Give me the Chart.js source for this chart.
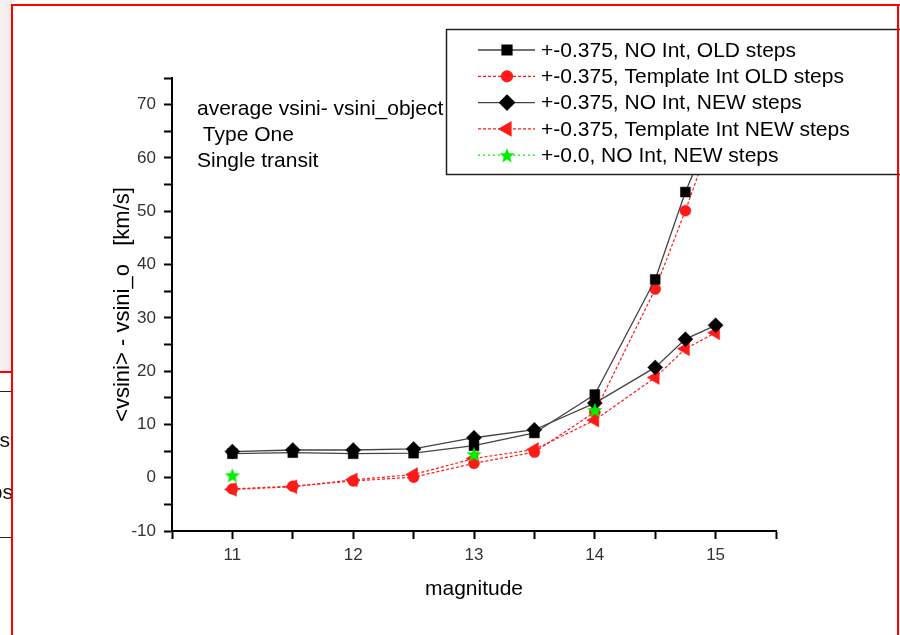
<!DOCTYPE html>
<html>
<head>
<meta charset="utf-8">
<title>average vsini - vsini_object</title>
<script src="https://cdn.jsdelivr.net/npm/chart.js@4.4.1/dist/chart.umd.min.js"></script>
<style>
  html, body { margin: 0; padding: 0; background: #fff; }
  #wrap { position: relative; width: 900px; height: 635px; overflow: hidden; font-family: 'Liberation Sans', Arial, sans-serif; }
  #chart { position: absolute; left: 0; top: 0; }
  .edge { position: absolute; pointer-events: none; }
  .red { background: #ff0000; }
  .blk { background: #222; }
  #strip { left: 0; top: 0; width: 12px; height: 372px; background: linear-gradient(90deg, #f7f2f2, #f1e9e9); }
  #side { position: absolute; left: 0; top: 380px; width: 11px; height: 170px; overflow: hidden; }
  .cut { position: absolute; font-size: 21px; color: #111; white-space: nowrap; }
</style>
</head>
<body>
<div id="wrap">
  <canvas id="chart" width="900" height="635"></canvas>
  <div class="edge" id="strip"></div>
  <div class="edge red" style="left:0;top:371px;width:13px;height:2px"></div>
  <div class="edge blk" style="left:0;top:391px;width:12px;height:1px"></div>
  <div class="edge blk" style="left:0;top:537px;width:12px;height:1px"></div>
  <div id="side">
    <div class="cut" style="top:48px;right:1px">steps</div>
    <div class="cut" style="top:100px;right:-2px">steps</div>
  </div>
  <div class="edge red" style="left:12px;top:4px;width:888px;height:2px"></div>
  <div class="edge red" style="left:11px;top:4px;width:2px;height:631px"></div>
  <div class="edge red" style="left:897px;top:4px;width:2px;height:631px"></div>
</div>
<script>
// magnitude bins on the x axis
const magnitudes = [11, 11.5, 12, 12.5, 13, 13.5, 14, 14.5, 14.75, 15];

// <vsini> - vsini_o [km/s] for each run
const oldNoInt    = [4.5, 4.7, 4.5, 4.6, 6.0, 8.4, 15.6, 37.2, 53.6, 67];
const oldTemplate = [-2.1, -1.6, -0.6, 0.1, 2.7, 4.8, 12.3, 35.4, 50.1, 66];
const newNoInt    = [4.9, 5.2, 5.2, 5.4, 7.5, 9.0, 14.0, 20.7, 26.0, 28.6];
const newTemplate = [-2.2, -1.7, -0.4, 0.6, 3.6, 5.3, 10.8, 18.8, 24.2, 27.2];
const zeroNoInt   = [0.45, null, null, null, 4.4, null, 12.7, null, null, null];

const seriesLabels = [
  '+-0.375, NO Int, OLD steps',
  '+-0.375, Template Int OLD steps',
  '+-0.375, NO Int, NEW steps',
  '+-0.375, Template Int NEW steps',
  '+-0.0, NO Int, NEW steps'
];
const noteLines = ['average vsini- vsini_object', ' Type One', 'Single transit'];

const FONT = "'Liberation Sans', Arial, sans-serif";

function makeStar(size, color) {
  const c = document.createElement('canvas');
  c.width = size; c.height = size;
  const g = c.getContext('2d');
  const ro = size / 2, ri = ro * 0.42;
  g.beginPath();
  for (let i = 0; i < 10; i++) {
    const r = i % 2 ? ri : ro;
    const a = -Math.PI / 2 + i * Math.PI / 5;
    g.lineTo(ro + r * Math.cos(a), ro + 0.8 + r * Math.sin(a));
  }
  g.closePath();
  g.fillStyle = color;
  g.fill();
  return c;
}
const greenStar = makeStar(16, '#00ee00');

function pts(arr) {
  return magnitudes.map((m, i) => ({ x: m, y: arr[i] }));
}

function series(label, arr, color, dash, style, radius, rotation, order) {
  const mark = color === '#444' ? '#000' : color;
  return {
    label, data: pts(arr), order,
    borderColor: color, borderWidth: dash.length ? 1.2 : 1.3, borderDash: dash,
    pointStyle: style, pointRadius: radius, pointRotation: rotation || 0,
    pointBackgroundColor: mark, pointBorderColor: mark,
    pointBorderWidth: 0.5, pointHoverRadius: radius,
    tension: 0, spanGaps: false
  };
}

const datasets = [
  series(seriesLabels[0], oldNoInt, '#444', [], 'rect', 7, 0, 2),
  series(seriesLabels[1], oldTemplate, '#ff1a1a', [3, 2], 'circle', 5.5, 0, 4),
  series(seriesLabels[2], newNoInt, '#444', [], 'rectRot', 7.5, 0, 3),
  series(seriesLabels[3], newTemplate, '#ff1a1a', [3, 2], 'triangle', 8, -90, 5),
  series(seriesLabels[4], zeroNoInt, '#00ee00', [2, 3], greenStar, 7, 0, 1)
];

// text block in the upper left of the plot
const notePlugin = {
  id: 'notes',
  afterDatasetsDraw(chart) {
    const ctx = chart.ctx;
    ctx.save();
    ctx.font = '21px ' + FONT;
    ctx.fillStyle = '#000';
    ctx.textBaseline = 'middle';
    noteLines.forEach((t, i) => ctx.fillText(t, 197, 109 + i * 26));
    ctx.restore();
  }
};

// Origin style boxed legend, opaque, sitting over the plot
const boxLegend = {
  id: 'boxLegend',
  afterDraw(chart) {
    const ctx = chart.ctx;
    const box = { x: 446, y: 29, w: 460, h: 145 };
    ctx.save();
    ctx.fillStyle = '#fff';
    ctx.fillRect(box.x, box.y, box.w, box.h);
    ctx.strokeStyle = '#222';
    ctx.lineWidth = 1.5;
    ctx.strokeRect(box.x + 0.5, box.y + 0.5, box.w, box.h);
    chart.data.datasets.forEach((ds, i) => {
      const y = 50 + i * 26.3;
      ctx.save();
      ctx.strokeStyle = ds.borderColor;
      ctx.lineWidth = ds.borderWidth;
      ctx.setLineDash(ds.borderDash);
      ctx.beginPath();
      ctx.moveTo(478, y);
      ctx.lineTo(535, y);
      ctx.stroke();
      ctx.setLineDash([]);
      ctx.fillStyle = ds.pointBackgroundColor;
      ctx.strokeStyle = ds.pointBorderColor;
      Chart.helpers.drawPoint(ctx, {
        pointStyle: ds.pointStyle, radius: ds.pointRadius,
        rotation: ds.pointRotation, borderWidth: 0.5
      }, 507, y);
      ctx.restore();
      ctx.font = '21px ' + FONT;
      ctx.fillStyle = '#000';
      ctx.textBaseline = 'middle';
      ctx.fillText(ds.label, 541, y + 1);
    });
    ctx.restore();
  }
};

new Chart(document.getElementById('chart'), {
  type: 'line',
  data: { datasets },
  options: {
    responsive: false,
    animation: false,
    layout: { padding: { left: 0, top: 78, right: 124, bottom: 0 } },
    plugins: {
      legend: { display: false },
      tooltip: { enabled: false }
    },
    scales: {
      x: {
        type: 'linear', min: 10.5, max: 15.5,
        afterFit: s => { s.height = 104; },
        border: { display: true, color: '#000', width: 2 },
        grid: { drawOnChartArea: false, drawTicks: true, tickLength: 8, tickColor: '#000', tickWidth: 2 },
        ticks: {
          stepSize: 0.5, padding: 6, color: '#333', font: { family: FONT, size: 17 },
          callback: v => Number.isInteger(v) ? String(v) : ''
        },
        title: { display: true, text: 'magnitude', color: '#000', font: { family: FONT, size: 21 }, padding: { top: 0, bottom: 33 } }
      },
      y: {
        min: -10, max: 75,
        afterFit: s => { s.width = 172; },
        border: { display: true, color: '#000', width: 2 },
        grid: { drawOnChartArea: false, drawTicks: true, tickLength: 8, tickColor: '#000', tickWidth: 2 },
        ticks: {
          stepSize: 5, padding: 8, color: '#333', font: { family: FONT, size: 17 },
          callback: v => v % 10 === 0 ? String(v) : ''
        },
        title: { display: true, text: '<vsini> - vsini_o   [km/s]', color: '#000', font: { family: FONT, size: 22 }, padding: { top: 110, bottom: 0 } }
      }
    }
  },
  plugins: [notePlugin, boxLegend]
});
</script>
</body>
</html>
